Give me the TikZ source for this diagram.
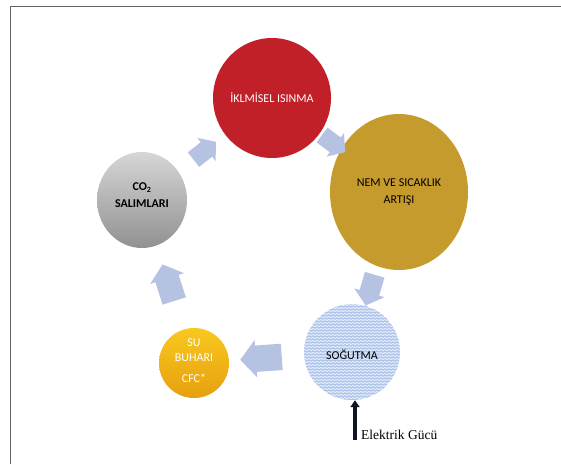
\documentclass[tikz,border=0pt]{standalone}
\usepackage{fontspec}
\setmainfont{Carlito}
\newfontfamily\serifnote{Liberation Serif}
\usetikzlibrary{shapes.geometric,shapes.arrows,patterns,arrows.meta}

\definecolor{framegray}{RGB}{100,100,100}
\definecolor{warmred}{RGB}{194,32,41}
\definecolor{mustard}{RGB}{197,155,46}
\definecolor{paleblue}{RGB}{222,232,248}
\definecolor{waveblue}{RGB}{125,160,222}
\definecolor{sunny}{RGB}{248,200,32}
\definecolor{sunnydark}{RGB}{230,160,14}
\definecolor{ashlight}{RGB}{214,214,214}
\definecolor{ashdark}{RGB}{145,145,145}
\definecolor{arrowblue}{RGB}{182,194,226}
\definecolor{inkblack}{RGB}{15,20,35}

\pgfdeclarepatternformonly{softwave}{\pgfpoint{-0.5pt}{-0.5pt}}{\pgfpoint{4.5pt}{3.5pt}}{\pgfpoint{4pt}{3pt}}{
  \pgfsetlinewidth{0.5pt}
  \pgfpathmoveto{\pgfpoint{0pt}{1.5pt}}
  \pgfpathcurveto{\pgfpoint{0.7pt}{2.6pt}}{\pgfpoint{1.3pt}{2.6pt}}{\pgfpoint{2pt}{1.5pt}}
  \pgfpathcurveto{\pgfpoint{2.7pt}{0.4pt}}{\pgfpoint{3.3pt}{0.4pt}}{\pgfpoint{4pt}{1.5pt}}
  \pgfusepath{stroke}
}

\begin{document}
\begin{tikzpicture}[x=1pt, y=-1pt,
    bubble/.style={ellipse, inner sep=0pt, align=center, font=\fontsize{12}{17}\selectfont},
    cyclearrow/.style={single arrow, fill=arrowblue, draw=none, sloped, allow upside down,
      inner xsep=0pt, inner ysep=#1, single arrow head extend=5.5pt, single arrow tip angle=100,
      minimum height=3.2*#1},
    cyclearrow/.default=11pt]
    \useasboundingbox (0,0) rectangle (561,464);
    \draw [framegray, line width=1.6pt] (10.5,464) -- (10.5,6.5) -- (561,6.5);
    \node [bubble, fill=warmred, text=white, minimum width=118pt, minimum height=120pt] (isinma) at (272,98) {İKLMİSEL ISINMA};
    \node [bubble, fill=mustard, minimum width=138pt, minimum height=156pt] (nem) at (399,192) {NEM VE SICAKLIK\\ARTIŞI};
    \node [bubble, preaction={fill=paleblue}, pattern=softwave, pattern color=waveblue, minimum size=96pt] (sogutma) at (352,352) {\\[-2pt]SOĞUTMA};
    \node [bubble, top color=sunny, bottom color=sunnydark, text=white, minimum size=70pt] (buhar) at (194,363) {SU\\[-2pt]BUHARI\\[4pt]CFC*\\[-12pt]};
    \node [bubble, top color=ashlight, bottom color=ashdark, font=\fontsize{12}{17}\selectfont\bfseries, minimum width=90pt, minimum height=96pt] (co2) at (142,200) {CO\textsubscript{2}\\SALIMLARI\\[-8pt]};
    \path (co2) -- node [cyclearrow=9pt] {} (isinma);
    \path (isinma) -- node [cyclearrow=9pt] {} (nem);
    \path (nem) -- node [cyclearrow=10pt] {} (sogutma);
    \path (sogutma) -- node [cyclearrow=13pt] {} (buhar);
    \path (buhar) -- node [cyclearrow=12pt] {} (co2);
    \coordinate (elk) at (355,440);
    \draw [inkblack, line width=3.4pt, -{Triangle[length=7pt,width=9pt]}] (elk) -- (elk |- sogutma.south);
    \node [anchor=base west, inner sep=0pt, font=\serifnote\fontsize{13.5}{16}\selectfont] (guc) at (361,439) {Elektrik Gücü};
  \end{tikzpicture}
\end{document}
